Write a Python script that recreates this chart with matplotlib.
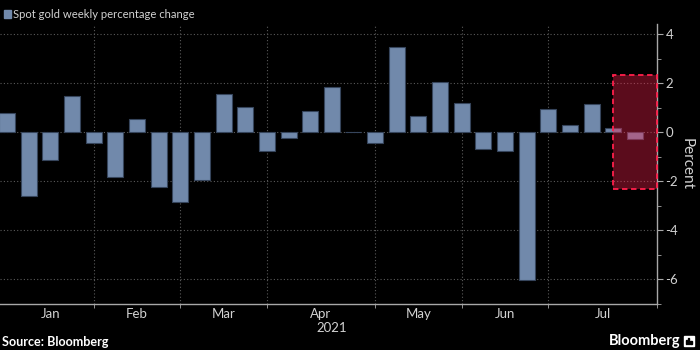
import matplotlib
matplotlib.use("Agg")
import matplotlib.pyplot as plt
from matplotlib.patches import Rectangle
from matplotlib.ticker import MultipleLocator, FixedLocator, NullFormatter
import numpy as np

# weekly % change of spot gold, Jan - Jul 2021
weekly_change = [0.79, -2.60, -1.13, 1.48, -0.42, -1.81, 0.54, -2.22, -2.83, -1.93,
                 1.55, 1.02, -0.75, -0.22, 0.86, 1.85, 0.02, -0.45, 3.48, 0.65,
                 2.04, 1.20, -0.67, -0.75, -6.04, 0.95, 0.30, 1.16, 0.18, -0.29]
months = ["Jan", "Feb", "Mar", "Apr", "May", "Jun", "Jul"]
weeks_per_month = [4, 4, 4, 5, 4, 4, 5]
year = "2021"
highlight_start = 28       # current week box starts at this bar
highlight_range = (-2.31, 2.35)

plt.rcParams["font.family"] = ["Lato", "DejaVu Sans"]
plt.rcParams["axes.unicode_minus"] = False

bar_color = "#7189ab"
text_color = "#d2d2d2"
axis_color = "#a8a8a8"
grid_color = "#5a5a5a"

fig = plt.figure(figsize=(7, 3.5), dpi=100, facecolor="black")
ax = fig.add_axes([0, 1 - 304 / 350, 657 / 700, 280 / 350])
ax.set_facecolor("black")

x = np.arange(len(weekly_change))
ax.bar(x, weekly_change, width=0.74, color=bar_color, edgecolor="#36455c",
       linewidth=0.8, zorder=3)

ax.set_xlim(-0.328, 30.02)
ax.set_ylim(-7.01, 4.42)

# month boundaries and label positions
bounds = np.concatenate([[0], np.cumsum(weeks_per_month)])
mids = (bounds[:-1] + bounds[1:]) / 2

for b in bounds[1:-1]:
    ax.axvline(b, color=grid_color, linestyle=(0, (1, 2)), linewidth=0.8, zorder=1)
ax.grid(axis="y", color=grid_color, linestyle=(0, (1, 2)), linewidth=0.8, zorder=1)
ax.grid(axis="x", visible=False)

ax.xaxis.set_major_locator(FixedLocator(mids))
ax.set_xticklabels(months)
ax.xaxis.set_minor_locator(FixedLocator(list(bounds[1:])))
ax.tick_params(axis="x", which="major", length=0, pad=3, labelsize=9.5,
               labelcolor=text_color)
ax.tick_params(axis="x", which="minor", length=3, direction="out", color=axis_color)
ax.text(bounds[-1] / 2, -0.084, year, transform=ax.get_xaxis_transform(),
        ha="center", va="center", fontsize=9.5, color=text_color)

ax.yaxis.tick_right()
ax.yaxis.set_major_locator(MultipleLocator(2))
ax.yaxis.set_minor_locator(MultipleLocator(1))
ax.yaxis.set_minor_formatter(NullFormatter())
ax.tick_params(axis="y", which="major", length=4, direction="out", color=axis_color,
               pad=2, labelsize=9.5, labelcolor=text_color)
ax.tick_params(axis="y", which="minor", length=3, direction="out", color=axis_color)
ax.set_ylabel("Percent", rotation=270, va="center", fontsize=11, color=text_color)
ax.yaxis.set_label_position("right")
ax.yaxis.set_label_coords(694 / 657, 0.5)

for side in ["top", "left"]:
    ax.spines[side].set_visible(False)
for side in ["bottom", "right"]:
    ax.spines[side].set_color(axis_color)
    ax.spines[side].set_linewidth(1)

# highlighted current week
x_end = ax.get_xlim()[1]
lo, hi = highlight_range
ax.add_patch(Rectangle((highlight_start, lo), x_end - highlight_start, hi - lo,
                       facecolor="#ff2450", alpha=0.36, edgecolor="none", zorder=4))
ax.add_patch(Rectangle((highlight_start, lo), x_end - highlight_start, hi - lo,
                       facecolor="none", edgecolor="#ff1f4b", linewidth=1.3,
                       linestyle=(0, (3, 2)), zorder=5, clip_on=False))

# legend
fig.patches.append(Rectangle((4 / 700, 1 - 17.5 / 350), 7 / 700, 7 / 350,
                             transform=fig.transFigure, color=bar_color))
fig.text(13 / 700, 1 - 14 / 350, "Spot gold weekly percentage change",
         ha="left", va="center", fontsize=8.1, color=text_color)

# footer
fig.text(2 / 700, 1 - 342 / 350, "Source: Bloomberg", ha="left", va="center",
         fontsize=9.1, fontweight="bold", color="white")
fig.text(681 / 700, 1 - 341 / 350, "Bloomberg", ha="right", va="center",
         fontsize=10.5, fontweight="bold", color="white")
fig.patches.append(Rectangle((684 / 700, 1 - 346 / 350), 10 / 700, 10 / 350,
                             transform=fig.transFigure, color="white"))
for i, h in enumerate([4, 6, 3]):
    fig.patches.append(Rectangle(((686 + 2.2 * i) / 700, 1 - 344 / 350), 1.2 / 700,
                                 h / 350, transform=fig.transFigure, color="black"))

fig.savefig("out.png", dpi=100, facecolor="black")
